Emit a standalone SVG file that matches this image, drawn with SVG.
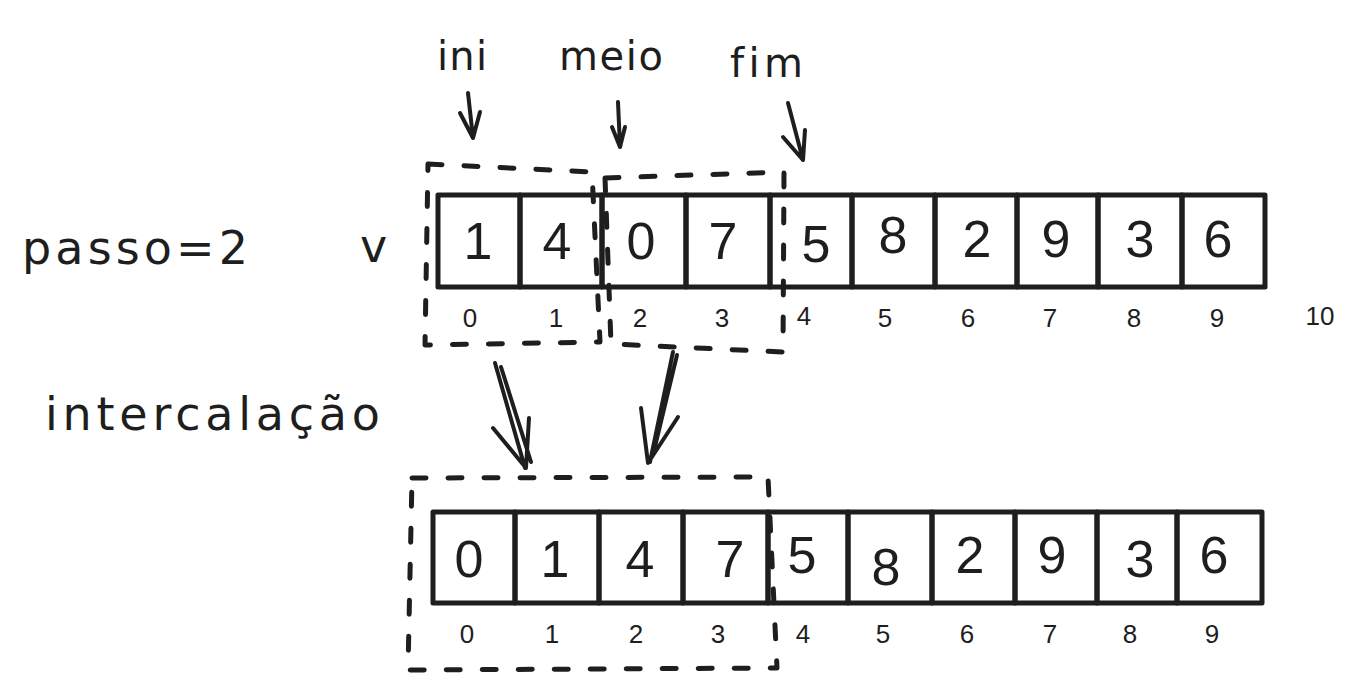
<svg xmlns="http://www.w3.org/2000/svg" width="1356" height="688" viewBox="0 0 1356 688">
<style>
.cell{fill:none;stroke:#1e1e1e;stroke-width:5;stroke-linejoin:round}
.dash{fill:none;stroke:#1e1e1e;stroke-width:5;stroke-dasharray:14 22;stroke-linecap:round;stroke-linejoin:round}
.arr{fill:none;stroke:#1e1e1e;stroke-width:4;stroke-linecap:round;stroke-linejoin:round}
text{font-family:"Liberation Sans",Arial,sans-serif;fill:#1e1e1e;font-variant-ligatures:none}
.big{font-size:52px;text-anchor:middle}
.idx{font-size:26px;text-anchor:middle}
.lbl{font-family:"DejaVu Sans",Verdana,sans-serif;font-size:40px}
.lbl-l{font-family:"DejaVu Sans",Verdana,sans-serif;font-size:46px}
</style>
<rect width="1356" height="688" fill="#ffffff"/>

<g id="label-ini"><text class="lbl" x="437" y="70" textLength="50" lengthAdjust="spacing">ini</text></g>
<g id="label-meio"><text class="lbl" x="559" y="70" textLength="104" lengthAdjust="spacing">meio</text></g>
<g id="label-fim"><text class="lbl" x="730" y="77" textLength="73" lengthAdjust="spacing">fim</text></g>
<g id="label-passo"><text class="lbl-l" x="22" y="264" textLength="226" lengthAdjust="spacing">passo=2</text></g>
<g id="label-v"><text class="lbl-l" x="360" y="262">v</text></g>
<g id="label-intercalacao"><text class="lbl-l" x="45" y="430" textLength="335" lengthAdjust="spacing">intercalação</text></g>

<g id="group-ini-meio"><path class="dash" d="M428,164 L592,172 L600,342 L425,345 Z"/></g>
<g id="group-meio-fim"><path class="dash" d="M605,178 L784,172 L783,352 L611,344 Z"/></g>
<g id="group-merged"><path class="dash" d="M412,478 L768,477 L777,668 L408,670 Z"/></g>

<g id="top-row">
<g id="t0"><rect class="cell" x="438" y="195" width="82" height="92"/><text class="big" x="478" y="259">1</text></g>
<g id="t1"><rect class="cell" x="520" y="195" width="82" height="92"/><text class="big" x="557" y="259">4</text></g>
<g id="t2"><rect class="cell" x="602" y="195" width="84" height="92"/><text class="big" x="641" y="259">0</text></g>
<g id="t3"><rect class="cell" x="686" y="195" width="84" height="92"/><text class="big" x="723" y="259">7</text></g>
<g id="t4"><rect class="cell" x="770" y="195" width="82" height="92"/><text class="big" x="816" y="262">5</text></g>
<g id="t5"><rect class="cell" x="852" y="195" width="83" height="92"/><text class="big" x="893" y="253">8</text></g>
<g id="t6"><rect class="cell" x="935" y="195" width="82" height="92"/><text class="big" x="977" y="257">2</text></g>
<g id="t7"><rect class="cell" x="1017" y="195" width="81" height="92"/><text class="big" x="1056" y="257">9</text></g>
<g id="t8"><rect class="cell" x="1098" y="195" width="84" height="92"/><text class="big" x="1140" y="257">3</text></g>
<g id="t9"><rect class="cell" x="1182" y="195" width="83" height="92"/><text class="big" x="1218" y="257">6</text></g>
</g>

<g id="top-index">
<text class="idx" x="470" y="327">0</text>
<text class="idx" x="556" y="327">1</text>
<text class="idx" x="640" y="327">2</text>
<text class="idx" x="722" y="327">3</text>
<text class="idx" x="804" y="325">4</text>
<text class="idx" x="885" y="327">5</text>
<text class="idx" x="968" y="327">6</text>
<text class="idx" x="1050" y="327">7</text>
<text class="idx" x="1134" y="327">8</text>
<text class="idx" x="1217" y="327">9</text>
<text class="idx" x="1320" y="325">10</text>
</g>

<g id="bottom-row">
<g id="b0"><rect class="cell" x="433" y="512" width="82" height="91"/><text class="big" x="469" y="577">0</text></g>
<g id="b1"><rect class="cell" x="515" y="512" width="84" height="91"/><text class="big" x="555" y="577">1</text></g>
<g id="b2"><rect class="cell" x="599" y="512" width="84" height="91"/><text class="big" x="640" y="577">4</text></g>
<g id="b3"><rect class="cell" x="683" y="512" width="85" height="91"/><text class="big" x="730" y="577">7</text></g>
<g id="b4"><rect class="cell" x="768" y="512" width="80" height="91"/><text class="big" x="802" y="573">5</text></g>
<g id="b5"><rect class="cell" x="848" y="512" width="84" height="91"/><text class="big" x="886" y="585">8</text></g>
<g id="b6"><rect class="cell" x="932" y="512" width="83" height="91"/><text class="big" x="970" y="573">2</text></g>
<g id="b7"><rect class="cell" x="1015" y="512" width="82" height="91"/><text class="big" x="1052" y="573">9</text></g>
<g id="b8"><rect class="cell" x="1097" y="512" width="80" height="91"/><text class="big" x="1140" y="577">3</text></g>
<g id="b9"><rect class="cell" x="1177" y="512" width="85" height="91"/><text class="big" x="1214" y="573">6</text></g>
</g>

<g id="bottom-index">
<text class="idx" x="467" y="643">0</text>
<text class="idx" x="552" y="643">1</text>
<text class="idx" x="636" y="643">2</text>
<text class="idx" x="718" y="643">3</text>
<text class="idx" x="803" y="643">4</text>
<text class="idx" x="883" y="643">5</text>
<text class="idx" x="967" y="643">6</text>
<text class="idx" x="1050" y="643">7</text>
<text class="idx" x="1130" y="643">8</text>
<text class="idx" x="1212" y="643">9</text>
</g>

<g id="connectors">
<path class="arr" d="M468,93 L473,138 M460,113 L473,138 L480,112"/>
<path class="arr" d="M618,102 L620,147 M612,127 L620,147 L625,127"/>
<path class="arr" d="M788,103 L803,160 M783,137 L803,160 L805,130"/>
<path class="arr" d="M495,363 L525,468 M501,367 L531,462 M493,428 L526,468 L529,418"/>
<path class="arr" d="M673,352 L650,462 M677,355 L653,455 M641,408 L648,463 L678,417"/>
</g>
</svg>
